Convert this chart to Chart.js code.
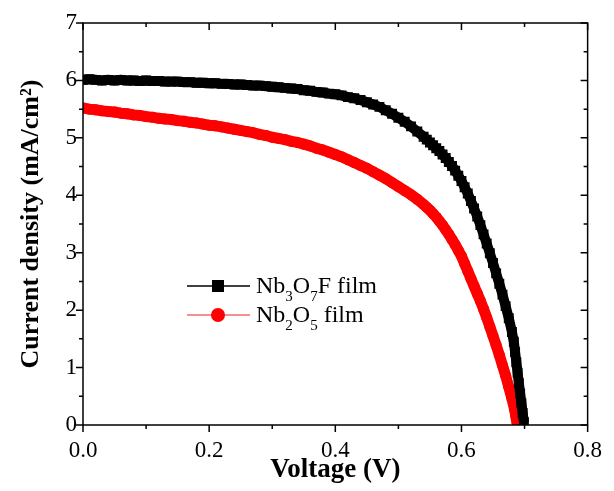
<!DOCTYPE html>
<html><head><meta charset="utf-8">
<script src="https://cdn.jsdelivr.net/npm/chart.js@4.4.1/dist/chart.umd.min.js"></script>
<style>html,body{margin:0;padding:0;background:#fff;}canvas{display:block;}</style>
</head><body>
<canvas id="c" width="614" height="491"></canvas>
<script>
const seriesLabels = ['Nb₃O₇F film', 'Nb₂O₅ film'];

const voltageNb3O7F = [0.00,0.01,0.02,0.03,0.04,0.05,0.06,0.07,0.08,0.09,0.10,0.11,0.12,0.13,0.14,0.15,0.16,0.17,0.18,0.19,
  0.20,0.21,0.22,0.23,0.24,0.25,0.26,0.27,0.28,0.29,0.30,0.31,0.32,0.33,0.34,0.35,0.36,0.37,0.38,0.39,
  0.40,0.41,0.42,0.43,0.44,0.45,0.46,0.47,0.48,0.49,0.50,0.51,0.52,0.53,0.54,0.545,
  0.550,0.555,0.560,0.565,0.570,0.575,0.580,0.585,0.590,0.595,0.600,0.605,0.610,0.615,0.620,0.625,
  0.630,0.635,0.640,0.645,0.650,0.655,0.660,0.665,0.670,0.675,0.680,0.683,0.685,0.687,0.689,0.691,
  0.693,0.695,0.697,0.699];
const currentNb3O7F = [6.01,6.02,6.01,6.00,6.01,6.00,6.01,6.00,6.00,5.99,6.00,5.99,5.99,5.98,5.98,5.98,5.97,5.97,5.96,5.96,
  5.95,5.95,5.94,5.94,5.93,5.93,5.92,5.91,5.91,5.90,5.89,5.88,5.87,5.86,5.85,5.83,5.82,5.80,5.79,5.77,
  5.76,5.74,5.71,5.69,5.66,5.62,5.58,5.54,5.48,5.42,5.35,5.28,5.20,5.11,5.02,4.97,
  4.92,4.87,4.82,4.77,4.71,4.65,4.58,4.51,4.43,4.34,4.25,4.14,4.03,3.90,3.77,3.63,
  3.48,3.32,3.16,2.99,2.82,2.64,2.46,2.27,2.07,1.86,1.62,1.45,1.27,1.09,0.91,0.73,
  0.55,0.38,0.21,0.05];

const voltageNb2O5 = [0.00,0.01,0.02,0.03,0.04,0.05,0.06,0.07,0.08,0.09,0.10,0.11,0.12,0.13,0.14,0.15,0.16,0.17,0.18,0.19,
  0.20,0.21,0.22,0.23,0.24,0.25,0.26,0.27,0.28,0.29,0.30,0.31,0.32,0.33,0.34,0.35,0.36,0.37,0.38,0.39,
  0.40,0.41,0.42,0.43,0.44,0.45,0.46,0.47,0.48,0.49,0.50,0.51,0.52,0.53,0.54,0.545,
  0.550,0.555,0.560,0.565,0.570,0.575,0.580,0.585,0.590,0.595,0.600,0.605,0.610,0.615,0.620,0.625,
  0.630,0.635,0.640,0.645,0.650,0.655,0.660,0.665,0.670,0.675,0.680,0.684,0.686,0.688];
const currentNb2O5 = [5.52,5.50,5.49,5.47,5.46,5.45,5.43,5.42,5.40,5.39,5.37,5.36,5.34,5.33,5.32,5.30,5.29,5.27,5.26,5.24,
  5.22,5.21,5.19,5.17,5.15,5.13,5.11,5.09,5.06,5.04,5.01,4.99,4.97,4.94,4.92,4.89,4.86,4.82,4.79,4.75,
  4.71,4.67,4.62,4.57,4.52,4.47,4.41,4.35,4.29,4.22,4.15,4.08,4.01,3.93,3.84,3.79,
  3.74,3.68,3.62,3.55,3.48,3.40,3.32,3.23,3.14,3.04,2.94,2.81,2.68,2.55,2.42,2.29,
  2.16,2.02,1.87,1.71,1.55,1.39,1.22,1.04,0.86,0.66,0.46,0.28,0.16,0.04];

const xTickLabels = ['0.0','0.2','0.4','0.6','0.8'];
const yTickLabels = ['0','1','2','3','4','5','6','7'];

function toPoints(xs, ys) { return xs.map((v, i) => ({x: v, y: ys[i]})); }

const SERIF = '"Liberation Serif", "Times New Roman", serif';

const framePlugin = {
  id: 'frame',
  afterDraw(chart) {
    const {ctx, chartArea: a, scales: {x, y}} = chart;
    ctx.save();
    ctx.strokeStyle = '#000';
    ctx.lineWidth = 1.5;
    ctx.strokeRect(a.left, a.top, a.right - a.left, a.bottom - a.top);
    ctx.beginPath();
    for (let i = 0; i <= 14; i++) {
      const py = y.getPixelForValue(i * 0.5);
      const len = (i % 2 === 0) ? 7 : 4;
      ctx.moveTo(a.left - len, py); ctx.lineTo(a.left, py);
      ctx.moveTo(a.right, py); ctx.lineTo(a.right - len, py);
    }
    for (let i = 0; i <= 8; i++) {
      const px = x.getPixelForValue(i * 0.1);
      const len = (i % 2 === 0) ? 7 : 4;
      ctx.moveTo(px, a.bottom); ctx.lineTo(px, a.bottom + len);
      ctx.moveTo(px, a.top); ctx.lineTo(px, a.top + len);
    }
    ctx.stroke();
    ctx.restore();
  }
};

const subDigits = {'₀':'0','₁':'1','₂':'2','₃':'3','₄':'4','₅':'5','₆':'6','₇':'7','₈':'8','₉':'9'};
function drawRichLabel(ctx, text, x, y) {
  const runs = [];
  for (const ch of text) {
    const isSub = ch in subDigits;
    const c = isSub ? subDigits[ch] : ch;
    if (runs.length && runs[runs.length - 1].sub === isSub) runs[runs.length - 1].t += c;
    else runs.push({t: c, sub: isSub});
  }
  let cx = x;
  ctx.textBaseline = 'alphabetic';
  ctx.textAlign = 'left';
  for (const r of runs) {
    ctx.font = (r.sub ? '15px ' : '24px ') + SERIF;
    ctx.fillText(r.t, cx, r.sub ? y + 8 : y);
    cx += ctx.measureText(r.t).width;
  }
}

const legendPlugin = {
  id: 'customLegend',
  afterDraw(chart) {
    const {ctx, chartArea: a} = chart;
    const items = [
      {label: chart.data.datasets[0].label, line: '#000', fill: '#000', style: 'rect', dy: 263},
      {label: chart.data.datasets[1].label, line: '#f26b6b', fill: '#ff0000', style: 'circle', dy: 292}
    ];
    ctx.save();
    items.forEach(it => {
      const yy = a.top + it.dy;
      const x0 = a.left + 104, x1 = a.left + 167, xm = a.left + 135;
      ctx.strokeStyle = it.line; ctx.lineWidth = 1.5;
      ctx.beginPath(); ctx.moveTo(x0, yy); ctx.lineTo(x1, yy); ctx.stroke();
      ctx.fillStyle = it.fill;
      if (it.style === 'rect') ctx.fillRect(xm - 6, yy - 6, 12, 12);
      else { ctx.beginPath(); ctx.arc(xm, yy, 7, 0, Math.PI * 2); ctx.fill(); }
      ctx.fillStyle = '#000';
      drawRichLabel(ctx, it.label, a.left + 173, yy + 7);
    });
    ctx.restore();
  }
};

new Chart(document.getElementById('c'), {
  type: 'line',
  data: {
    datasets: [
      {
        label: seriesLabels[0],
        data: toPoints(voltageNb3O7F, currentNb3O7F),
        borderColor: '#000', backgroundColor: '#000', borderWidth: 10,
        borderJoinStyle: 'round',
        pointStyle: 'rect', pointRadius: 7, pointBorderWidth: 0,
        pointBackgroundColor: '#000', pointBorderColor: '#000', tension: 0
      },
      {
        label: seriesLabels[1],
        data: toPoints(voltageNb2O5, currentNb2O5),
        borderColor: '#ff0000', backgroundColor: '#ff0000', borderWidth: 11,
        borderJoinStyle: 'round',
        pointStyle: 'circle', pointRadius: 5.5, pointBorderWidth: 0,
        pointBackgroundColor: '#ff0000', pointBorderColor: '#ff0000', tension: 0
      }
    ]
  },
  options: {
    responsive: false, animation: false, devicePixelRatio: 1,
    layout: {padding: {top: 23, right: 19, left: 0, bottom: 0}},
    plugins: {legend: {display: false}, tooltip: {enabled: false}},
    scales: {
      x: {
        type: 'linear', min: 0, max: 0.8,
        afterFit(s) { s.height = 66; },
        grid: {display: false, drawTicks: false}, border: {display: false},
        ticks: {
          stepSize: 0.2, padding: 12, color: '#000', maxRotation: 0,
          font: {family: SERIF, size: 23},
          callback: (v) => xTickLabels[Math.round(v / 0.2)]
        },
        title: {display: true, text: 'Voltage (V)', color: '#000',
          font: {family: SERIF, size: 27, weight: 'bold'}, padding: {top: 0, bottom: 5}}
      },
      y: {
        type: 'linear', min: 0, max: 7,
        afterFit(s) { s.width = 83; },
        grid: {display: false, drawTicks: false}, border: {display: false},
        ticks: {
          stepSize: 1, padding: 6, color: '#000',
          font: {family: SERIF, size: 23},
          callback: (v) => yTickLabels[Math.round(v)]
        },
        title: {display: true, text: 'Current density (mA/cm²)', color: '#000',
          font: {family: SERIF, size: 26, weight: 'bold'}, padding: {top: 16, bottom: 0}}
      }
    }
  },
  plugins: [framePlugin, legendPlugin]
});
</script>
</body></html>
